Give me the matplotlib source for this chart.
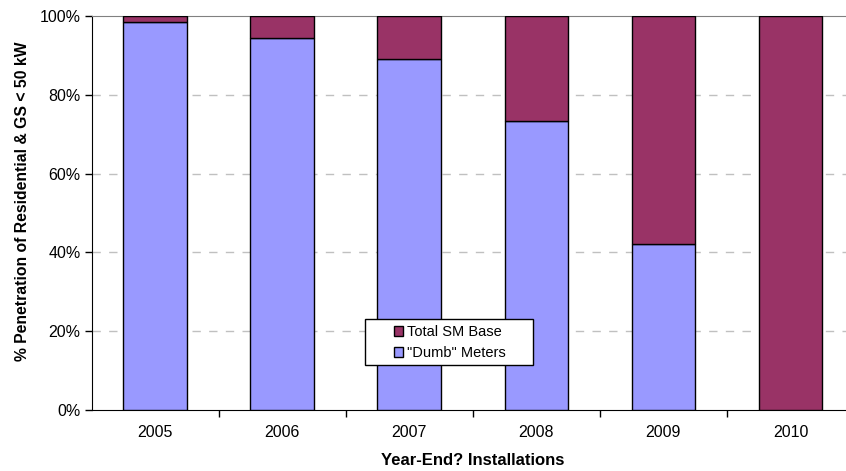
import matplotlib
matplotlib.use("Agg")
import matplotlib.pyplot as plt
from matplotlib.patches import Rectangle
from matplotlib.ticker import FixedLocator, PercentFormatter

plt.rcParams['font.family'] = ['Liberation Sans', 'DejaVu Sans']

years = ["2005", "2006", "2007", "2008", "2009", "2010"]
dumb_meters = [0.985, 0.943, 0.891, 0.734, 0.422, 0.0]
sm_base = [1 - v for v in dumb_meters]

W, H = 846, 471
fig = plt.figure(figsize=(W / 100, H / 100), dpi=100)
ax = fig.add_axes([91.5 / W, 61 / H, 762.5 / W, 394 / H])

x = list(range(len(years)))
b1 = ax.bar(x, dumb_meters, width=0.5, color="#9999FF", edgecolor="black",
            linewidth=1.0, label='"Dumb" Meters', zorder=3)
b2 = ax.bar(x, sm_base, width=0.5, bottom=dumb_meters, color="#993366",
            edgecolor="black", linewidth=1.0, label="Total SM Base", zorder=3)

ax.set_xlim(-0.5, len(years) - 0.5)
ax.set_ylim(0, 1)

ax.yaxis.set_major_locator(FixedLocator([0, 0.2, 0.4, 0.6, 0.8, 1.0]))
ax.yaxis.set_major_formatter(PercentFormatter(1.0, decimals=0))
ax.tick_params(axis="y", direction="out", length=5, width=1, labelsize=11.5,
               colors="black", pad=3)

# category labels sit on minor ticks, boundaries get the tick marks
ax.xaxis.set_major_locator(FixedLocator([i + 0.5 for i in range(len(years) - 1)]))
ax.xaxis.set_major_formatter(plt.NullFormatter())
ax.set_xticks(x, minor=True)
ax.set_xticklabels(years, minor=True)
ax.tick_params(axis="x", which="major", direction="out", length=5, width=1)
ax.tick_params(axis="x", which="minor", length=0, pad=11, labelsize=11.5)

for yv in [0.2, 0.4, 0.6, 0.8]:
    ax.axhline(yv, color="#c0c0c0", linestyle=(0, (6, 6)), linewidth=1, zorder=1)

ax.spines["top"].set_color("#808080")
ax.spines["right"].set_visible(False)
ax.spines["left"].set_color("black")
ax.spines["bottom"].set_color("black")

ax.set_ylabel("% Penetration of Residential & GS < 50 kW", fontsize=11.3,
              fontweight="bold", va="center")
ax.yaxis.set_label_coords(-0.09, 0.53)
ax.set_xlabel("Year-End? Installations", fontsize=12, fontweight="bold",
              va="center")
ax.xaxis.set_label_coords(0.5, -0.129)

# legend box with wide side margins
box = Rectangle((365 / W, (H - 365) / H), 168 / W, 46 / H,
                transform=fig.transFigure, facecolor="white",
                edgecolor="black", linewidth=1, zorder=4, clip_on=False)
ax.add_patch(box)

leg = ax.legend(handles=[b2, b1], loc="upper left",
                bbox_to_anchor=(394 / W, (H - 325) / H),
                bbox_transform=fig.transFigure,
                frameon=False, fontsize=10.5, handlelength=0.62,
                handleheight=0.62, handletextpad=0.3, borderpad=0,
                labelspacing=0.5, borderaxespad=0)
leg.set_zorder(5)

fig.savefig("out.png", dpi=100)
